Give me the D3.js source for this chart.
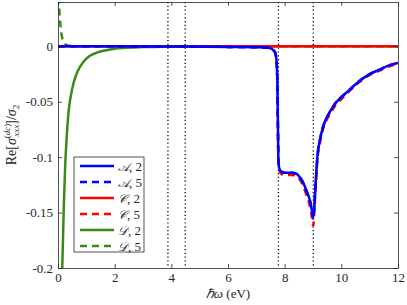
<!DOCTYPE html>
<html><head>
<meta charset="utf-8">
<script src="https://cdnjs.cloudflare.com/ajax/libs/d3/7.8.5/d3.min.js"></script>
<style>
  body { margin: 0; background: #fff; }
  svg text { font-family: "Liberation Serif", "Times New Roman", Times, serif; fill: #262626; }
</style>
</head>
<body>
<div id="chart"></div>
<script>
// values: [energy (eV), Re sigma / sigma2]
var seriesA2 = [[0,0],[2,0],[4,-0.0002],[6,-0.0005],[7,-0.0008],[7.4,-0.0012],[7.53,-0.002],[7.6,-0.0035],[7.67,-0.006],[7.71,-0.012],[7.74,-0.03],[7.76,-0.067],[7.78,-0.103],[7.81,-0.11],[7.88,-0.113],[8.03,-0.114],[8.24,-0.114],[8.42,-0.115],[8.53,-0.118],[8.67,-0.124],[8.78,-0.131],[8.89,-0.139],[8.96,-0.148],[9.01,-0.154],[9.06,-0.139],[9.1,-0.121],[9.16,-0.098],[9.24,-0.085],[9.35,-0.073],[9.45,-0.066],[9.6,-0.059],[9.77,-0.052],[9.95,-0.047],[10.3,-0.039],[10.65,-0.031],[11.0,-0.025],[11.35,-0.021],[11.7,-0.017],[12,-0.015]];
var seriesA5 = [[0,0],[2,0],[4,-0.0002],[6,-0.0005],[7,-0.0008],[7.4,-0.0012],[7.53,-0.002],[7.6,-0.0035],[7.67,-0.006],[7.71,-0.012],[7.74,-0.03],[7.76,-0.067],[7.78,-0.103],[7.81,-0.11],[7.88,-0.113],[8.03,-0.114],[8.24,-0.114],[8.42,-0.115],[8.53,-0.118],[8.67,-0.124],[8.78,-0.131],[8.89,-0.139],[8.96,-0.148],[9.01,-0.155],[9.06,-0.139],[9.1,-0.121],[9.16,-0.098],[9.24,-0.085],[9.35,-0.073],[9.45,-0.066],[9.6,-0.059],[9.77,-0.052],[9.95,-0.047],[10.3,-0.039],[10.65,-0.031],[11.0,-0.025],[11.35,-0.021],[11.7,-0.017],[12,-0.015]];
var seriesC2 = [[0,0],[12,0]];
var seriesC5 = [[0,0],[2,0],[4,-0.0002],[6,-0.0005],[7,-0.0008],[7.4,-0.0012],[7.53,-0.002],[7.6,-0.0035],[7.67,-0.006],[7.71,-0.012],[7.74,-0.03],[7.76,-0.068],[7.78,-0.105],[7.81,-0.112],[7.88,-0.115],[8.03,-0.116],[8.24,-0.116],[8.42,-0.117],[8.53,-0.12],[8.67,-0.127],[8.78,-0.135],[8.89,-0.144],[8.96,-0.154],[9.01,-0.162],[9.06,-0.143],[9.1,-0.124],[9.16,-0.101],[9.24,-0.088],[9.35,-0.075],[9.45,-0.068],[9.6,-0.061],[9.77,-0.054],[9.95,-0.049],[10.3,-0.04],[10.65,-0.032],[11.0,-0.026],[11.35,-0.022],[11.7,-0.018],[12,-0.016]];
var seriesD2 = [[0.15,-0.2],[0.18,-0.17],[0.21,-0.14],[0.25,-0.11],[0.3,-0.085],[0.37,-0.06],[0.45,-0.045],[0.55,-0.033],[0.7,-0.022],[0.9,-0.014],[1.1,-0.009],[1.4,-0.0055],[1.8,-0.003],[2.3,-0.0015],[3,-0.0007],[4,-0.0003],[6,0],[12,0]];
var seriesD5 = [[0.02,0.045],[0.04,0.035],[0.06,0.027],[0.09,0.018],[0.13,0.01],[0.18,0.005],[0.25,0.002],[0.35,0.0007],[0.5,0.0002],[0.8,0],[12,0]];
var markerLines = [3.88, 4.49, 7.78, 9.01];
var xTicks = [0, 2, 4, 6, 8, 10, 12];
var yTicks = [0, -0.05, -0.1, -0.15, -0.2];
var legendLabels = [["\u{1D49C}", "2"], ["\u{1D49C}", "5"], ["\u{1D49E}", "2"], ["\u{1D49E}", "5"], ["\u{1D49F}", "2"], ["\u{1D49F}", "5"]];

var W = 407, H = 305;
var margin = {top: 2, right: 9, bottom: 37, left: 58};
var width = W - margin.left - margin.right;
var height = H - margin.top - margin.bottom;
var serif = "'Liberation Serif', 'Times New Roman', Times, serif";

var svg = d3.select("#chart").append("svg")
    .attr("width", W).attr("height", H);
var g = svg.append("g")
    .attr("transform", "translate(" + margin.left + "," + margin.top + ")");

var x = d3.scaleLinear().domain([0, 12]).range([0, width]);
var y = d3.scaleLinear().domain([-0.2, 0.04]).range([height, 0]);

g.append("clipPath").attr("id", "clip")
  .append("rect").attr("width", width).attr("height", height);

var plot = g.append("g").attr("clip-path", "url(#clip)");

var line = d3.line()
    .x(function(d) { return x(d[0]); })
    .y(function(d) { return y(d[1]); })
    .curve(d3.curveMonotoneX);

// dotted vertical markers
markerLines.forEach(function(v) {
  plot.append("line")
    .attr("x1", x(v)).attr("x2", x(v))
    .attr("y1", 0).attr("y2", height)
    .attr("stroke", "#000").attr("stroke-width", 1.3)
    .attr("stroke-dasharray", "1.2,2.6");
});

var blue = "#0000ff", red = "#ff0000", green = "#3a8a18";
var series = [
  {data: seriesD5, color: green, dash: "7,5"},
  {data: seriesD2, color: green, dash: null},
  {data: seriesC2, color: red, dash: null},
  {data: seriesC5, color: red, dash: "7,5"},
  {data: seriesA5, color: blue, dash: "7,5"},
  {data: seriesA2, color: blue, dash: null}
];
series.forEach(function(s) {
  plot.append("path")
    .datum(s.data)
    .attr("fill", "none")
    .attr("stroke", s.color)
    .attr("stroke-width", 2.5)
    .attr("stroke-dasharray", s.dash)
    .attr("d", line);
});

// axes box with inward ticks on all sides
var axisColor = "#262626";
g.append("g").attr("transform", "translate(0," + height + ")")
  .call(d3.axisBottom(x).tickValues(xTicks).tickSizeInner(-4).tickSizeOuter(0).tickPadding(5));
g.append("g")
  .call(d3.axisTop(x).tickValues(xTicks).tickSizeInner(-4).tickSizeOuter(0).tickFormat(""));
g.append("g")
  .call(d3.axisLeft(y).tickValues(yTicks).tickSizeInner(-4).tickSizeOuter(0).tickPadding(5)
    .tickFormat(function(d) { return d === 0 ? "0" : String(d); }));
g.append("g").attr("transform", "translate(" + width + ",0)")
  .call(d3.axisRight(y).tickValues(yTicks).tickSizeInner(-4).tickSizeOuter(0).tickFormat(""));
g.selectAll(".domain").attr("stroke", axisColor).attr("stroke-width", 0.8);
g.selectAll(".tick line").attr("stroke", axisColor).attr("stroke-width", 0.8);
g.selectAll("g").attr("font-family", null);
g.selectAll(".tick text")
  .style("font-family", serif)
  .style("font-size", "13px").attr("fill", axisColor);

// legend
var lg = g.append("g").attr("transform", "translate(" + (74 - margin.left) + "," + (157 - margin.top) + ")");
lg.append("rect").attr("width", 70).attr("height", 95)
  .attr("fill", "#fff").attr("stroke", axisColor).attr("stroke-width", 0.8);
var legendStyles = [[blue, null], [blue, "7,5"], [red, null], [red, "7,5"], [green, null], [green, "7,5"]];
legendLabels.forEach(function(lab, i) {
  var yy = 9 + i * 16;
  lg.append("line")
    .attr("x1", 6).attr("x2", 40).attr("y1", yy).attr("y2", yy)
    .attr("stroke", legendStyles[i][0]).attr("stroke-width", 2.5)
    .attr("stroke-dasharray", legendStyles[i][1]);
  var t = lg.append("text").attr("x", 44).attr("y", yy + 4.5)
    .style("font-size", "13px").style("font-family", serif);
  t.append("tspan").style("font-family", "'DejaVu Serif', serif").style("font-style", "italic").style("font-size", "12px").text(lab[0]);
  t.append("tspan").text(", " + lab[1]);
});

// axis labels
var xl = svg.append("text")
  .attr("x", margin.left + width / 2).attr("y", 298)
  .attr("text-anchor", "middle").style("font-size", "13px").style("font-family", serif);
xl.append("tspan").style("font-style", "italic").text("\u210F\u03C9");
xl.append("tspan").text(" (eV)");

var yl = svg.append("text")
  .attr("transform", "translate(16," + (margin.top + height / 2) + ") rotate(-90)")
  .attr("text-anchor", "middle").style("font-size", "14px").style("font-family", serif);
yl.append("tspan").text("Re[");
yl.append("tspan").style("font-style", "italic").text("\u03C3");
yl.append("tspan").attr("dy", -6).style("font-size", "9px").text("(");
yl.append("tspan").style("font-size", "9px").style("font-style", "italic").text("dc");
yl.append("tspan").style("font-size", "9px").text(")");
yl.append("tspan").attr("dx", -13).attr("dy", 9).style("font-size", "9px").style("font-style", "italic").text("xxx");
yl.append("tspan").attr("dy", -3).text("]/");
yl.append("tspan").style("font-style", "italic").text("\u03C3");
yl.append("tspan").attr("dy", 3).style("font-size", "9px").text("2");
</script>
</body></html>
